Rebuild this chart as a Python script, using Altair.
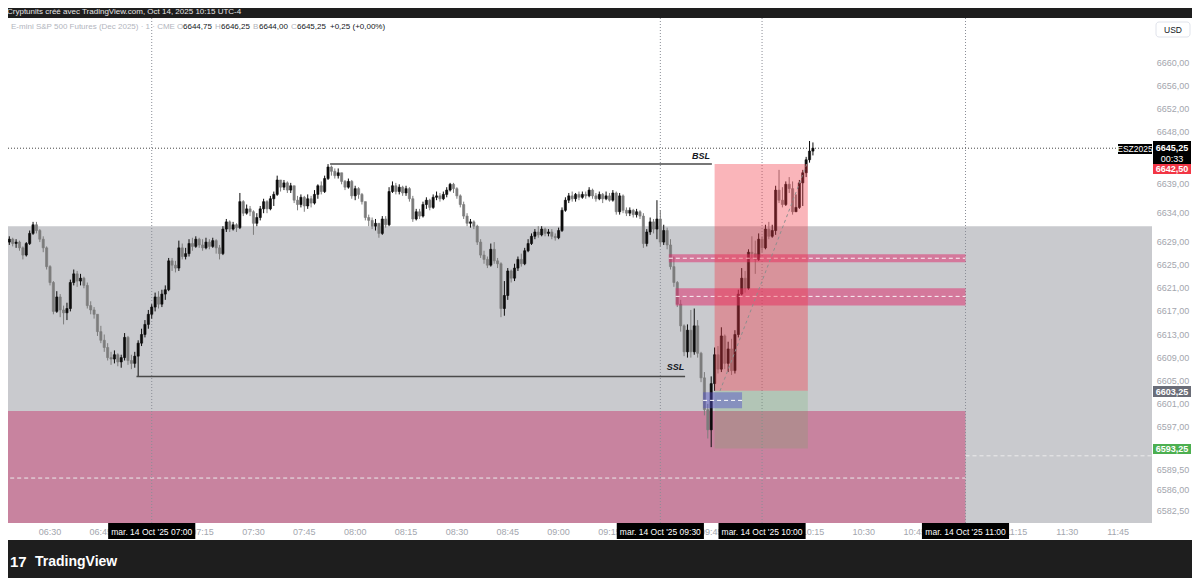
import altair as alt
import pandas as pd

# ---------------- data (1-minute candles from 06:18 to 10:15) ----------------
start_minute = 6 * 60 + 18
first_open = 6629.0
closes = [
    6629.5, 6628.75, 6629.0, 6628.0, 6626.75, 6628.75, 6630.5, 6632.0, 6631.0, 6629.5,
    6628.0, 6624.75, 6622.0, 6617.0, 6619.5, 6617.25, 6616.75, 6617.5, 6622.0, 6623.5,
    6622.25, 6622.75, 6621.5, 6618.0, 6617.25, 6616.5, 6613.5, 6612.0, 6610.75, 6609.0,
    6608.75, 6609.5, 6608.25, 6609.0, 6612.5, 6608.5, 6608.0, 6609.25, 6611.5, 6613.0,
    6614.75, 6616.5, 6617.75, 6619.5, 6618.25, 6620.0, 6620.75, 6625.75, 6625.0, 6624.5,
    6628.0, 6626.5, 6627.0, 6628.75, 6628.25, 6629.5, 6628.5, 6628.0, 6629.0, 6628.25,
    6629.25, 6628.0, 6627.0, 6631.25, 6632.5, 6631.25, 6632.0, 6631.5, 6636.0, 6634.0,
    6634.75, 6634.25, 6632.25, 6633.25, 6634.75, 6636.0, 6634.75, 6636.5, 6637.25, 6639.75,
    6638.5, 6639.25, 6638.0, 6638.75, 6636.25, 6635.5, 6636.75, 6635.25, 6636.5, 6635.75,
    6637.25, 6638.75, 6637.75, 6640.0, 6642.0, 6641.25, 6640.5, 6641.0, 6639.5, 6638.5,
    6639.5, 6637.0, 6638.25, 6637.25, 6636.0, 6633.25, 6632.75, 6631.75, 6632.25, 6630.5,
    6633.0, 6632.0, 6637.75, 6638.75, 6637.75, 6638.5, 6637.5, 6638.25, 6636.5, 6633.0,
    6634.25, 6633.5, 6635.5, 6636.25, 6635.0, 6636.75, 6637.0, 6636.5, 6637.25, 6638.0,
    6639.0, 6638.25, 6637.0, 6635.5, 6633.5, 6632.25, 6632.5, 6631.75, 6629.0, 6626.75,
    6626.0, 6625.0, 6627.75, 6625.75, 6625.25, 6617.5, 6619.75, 6624.0, 6622.75, 6624.5,
    6626.0, 6625.25, 6627.5, 6628.75, 6630.0, 6630.75, 6630.25, 6631.25, 6630.5, 6630.75,
    6630.0, 6629.75, 6631.0, 6634.5, 6636.25, 6637.0, 6636.5, 6637.25, 6636.75, 6637.25,
    6637.0, 6638.0, 6637.0, 6636.5, 6637.25, 6636.5, 6637.0, 6636.25, 6637.5, 6634.25,
    6637.0, 6634.5, 6634.0, 6634.5, 6633.75, 6634.25, 6633.5, 6628.75, 6630.75, 6632.5,
    6631.25, 6633.0, 6629.0, 6631.0, 6628.5, 6624.75, 6622.0, 6618.25, 6614.5, 6610.0,
    6613.75, 6610.0, 6614.5, 6609.75, 6605.5, 6600.0, 6596.5, 6604.5, 6609.5, 6607.0,
    6612.75, 6608.0, 6610.5, 6606.75, 6613.0, 6620.0, 6622.75, 6621.0, 6627.25, 6627.0,
    6626.0, 6629.5, 6628.0, 6631.25, 6630.0, 6631.0, 6638.0, 6636.25, 6635.5, 6639.0,
    6638.25, 6634.25, 6635.0, 6639.25, 6641.0, 6643.25, 6644.75, 6645.25,
]
highs = [
    6630.0, 6629.75, 6629.5, 6629.25, 6628.25, 6629.0, 6631.0, 6632.5, 6632.5, 6631.25,
    6630.0, 6628.25, 6625.0, 6622.25, 6620.5, 6620.0, 6618.0, 6618.5, 6622.5, 6624.25,
    6624.0, 6623.5, 6623.0, 6622.0, 6618.75, 6617.75, 6616.0, 6614.5, 6613.0, 6611.5,
    6610.0, 6610.25, 6609.75, 6609.5, 6613.25, 6612.75, 6609.5, 6610.0, 6612.0, 6614.0,
    6615.5, 6617.25, 6618.25, 6620.25, 6620.5, 6620.75, 6621.5, 6626.25, 6626.25, 6625.75,
    6629.25, 6628.75, 6628.0, 6629.5, 6629.75, 6630.0, 6629.75, 6629.5, 6629.75, 6629.5,
    6629.75, 6629.5, 6628.5, 6631.75, 6633.0, 6632.75, 6632.5, 6632.25, 6637.5, 6636.25,
    6635.5, 6635.25, 6634.5, 6634.0, 6635.25, 6636.5, 6636.25, 6637.0, 6637.75, 6640.5,
    6639.75, 6639.75, 6639.5, 6639.25, 6638.75, 6637.0, 6637.25, 6637.0, 6637.25, 6637.0,
    6638.0, 6639.0, 6639.5, 6640.5, 6642.5, 6642.25, 6641.75, 6641.75, 6641.0, 6639.75,
    6640.0, 6639.75, 6638.75, 6638.5, 6637.5, 6636.0, 6633.75, 6633.25, 6633.0, 6632.25,
    6633.5, 6633.5, 6638.5, 6639.5, 6639.25, 6639.0, 6638.75, 6638.75, 6638.5, 6637.0,
    6634.75, 6634.75, 6636.0, 6636.75, 6636.5, 6637.25, 6637.75, 6637.5, 6637.75, 6638.5,
    6639.25, 6639.25, 6638.5, 6637.25, 6636.0, 6634.0, 6633.0, 6632.75, 6632.0, 6629.5,
    6627.5, 6626.5, 6628.75, 6629.0, 6626.25, 6625.5, 6622.25, 6624.5, 6624.25, 6625.25,
    6626.5, 6627.0, 6628.0, 6629.5, 6630.5, 6631.25, 6631.75, 6631.75, 6631.5, 6631.25,
    6631.25, 6630.5, 6631.5, 6635.0, 6636.75, 6637.5, 6637.75, 6637.5, 6637.75, 6637.75,
    6637.75, 6638.5, 6638.25, 6637.5, 6637.75, 6637.5, 6637.75, 6637.5, 6638.0, 6637.75,
    6637.5, 6637.25, 6635.0, 6635.0, 6634.75, 6634.75, 6634.5, 6634.0, 6631.25, 6633.25,
    6633.0, 6636.25, 6634.5, 6632.0, 6631.5, 6629.5, 6626.5, 6622.25, 6619.0, 6614.75,
    6614.75, 6617.25, 6617.5, 6615.5, 6610.0, 6606.5, 6601.0, 6605.75, 6610.75, 6611.0,
    6614.25, 6613.0, 6611.75, 6612.25, 6613.75, 6620.75, 6624.5, 6624.0, 6627.75, 6630.0,
    6629.25, 6630.5, 6630.0, 6632.0, 6632.5, 6632.0, 6638.75, 6641.5, 6638.5, 6639.5,
    6640.25, 6639.5, 6637.25, 6639.75, 6641.5, 6643.75, 6646.5, 6646.25,
]
lows = [
    6628.5, 6628.25, 6628.0, 6627.5, 6626.0, 6626.5, 6628.5, 6630.25, 6630.5, 6629.0,
    6627.25, 6624.25, 6621.5, 6616.5, 6616.75, 6616.0, 6614.75, 6615.5, 6617.0, 6621.5,
    6621.25, 6621.5, 6621.0, 6617.5, 6616.5, 6615.75, 6612.75, 6611.5, 6610.0, 6608.5,
    6607.75, 6608.0, 6607.5, 6607.25, 6608.5, 6607.75, 6607.0, 6607.25, 6605.75, 6611.0,
    6612.5, 6614.0, 6615.75, 6617.0, 6617.5, 6617.75, 6619.0, 6620.5, 6624.0, 6623.75,
    6624.0, 6626.0, 6626.0, 6626.5, 6627.5, 6628.0, 6628.0, 6627.5, 6627.75, 6627.75,
    6628.0, 6627.0, 6626.0, 6626.75, 6630.75, 6630.75, 6631.0, 6630.75, 6631.25, 6633.5,
    6633.75, 6633.5, 6630.25, 6631.75, 6632.75, 6634.0, 6634.0, 6634.5, 6635.25, 6637.0,
    6637.75, 6638.0, 6637.5, 6637.5, 6635.75, 6634.5, 6635.0, 6634.25, 6634.75, 6635.0,
    6635.5, 6636.5, 6637.25, 6637.5, 6639.75, 6640.5, 6640.0, 6640.0, 6639.0, 6638.0,
    6638.25, 6636.5, 6636.25, 6636.5, 6635.5, 6632.75, 6631.75, 6631.25, 6631.0, 6629.75,
    6630.25, 6631.5, 6631.75, 6637.5, 6637.25, 6637.25, 6637.0, 6637.0, 6636.0, 6632.5,
    6632.75, 6633.0, 6633.25, 6634.75, 6634.5, 6634.75, 6636.25, 6636.0, 6636.25, 6636.75,
    6637.75, 6637.5, 6636.5, 6635.0, 6633.0, 6631.75, 6631.5, 6631.25, 6628.5, 6626.25,
    6625.25, 6624.5, 6624.75, 6625.25, 6624.5, 6616.0, 6616.25, 6619.0, 6622.0, 6622.25,
    6624.0, 6624.75, 6625.0, 6627.25, 6628.5, 6629.5, 6629.75, 6630.0, 6630.0, 6630.0,
    6629.5, 6629.25, 6629.5, 6630.75, 6634.25, 6635.75, 6636.0, 6636.0, 6636.25, 6636.5,
    6636.5, 6636.75, 6636.5, 6636.0, 6636.25, 6635.75, 6636.25, 6636.0, 6636.0, 6633.75,
    6633.75, 6634.0, 6633.5, 6633.5, 6633.25, 6633.25, 6633.0, 6628.0, 6628.25, 6630.25,
    6630.5, 6629.5, 6628.25, 6628.5, 6627.75, 6624.25, 6621.25, 6617.75, 6613.5, 6609.25,
    6609.0, 6609.0, 6609.5, 6609.0, 6604.75, 6599.0, 6595.0, 6593.5, 6603.25, 6606.25,
    6606.5, 6607.0, 6606.5, 6606.0, 6606.25, 6612.5, 6619.75, 6620.25, 6620.75, 6626.25,
    6623.5, 6625.75, 6627.25, 6627.75, 6629.5, 6629.75, 6630.25, 6635.75, 6635.0, 6635.25,
    6637.5, 6633.75, 6634.25, 6634.75, 6635.25, 6640.25, 6642.75, 6644.0,
]

price_ticks = [6660, 6656, 6652, 6648, 6639, 6634, 6629, 6625, 6621, 6617,
               6613, 6609, 6605, 6601, 6597, 6589.5, 6586, 6582.5]
time_ticks = ["06:30", "06:45", "07:15", "07:30", "07:45", "08:00", "08:15", "08:30",
              "08:45", "09:00", "09:15", "09:45", "10:15", "10:30", "10:45", "11:15",
              "11:30", "11:45"]
session_times = ["07:00", "09:30", "10:00", "11:00"]
session_date = "mar. 14 Oct '25"

# drawings (times in minutes after midnight, prices in points)
grey_zone_top = 6631.75
pink_zone_top = 6599.75
pink_mid = 6588.15
right_dashed = 6592.0
fvg_start = [572.5, 574.5]
fvg_end = [660, 660]
fvg_top = [6626.9, 6621.0]
fvg_bottom = [6625.5, 6618.0]
fvg_mid = [6626.2, 6619.6]
pos_start, pos_end = 586.0, 613.5
pos_entry, pos_stop, pos_target = 6603.25, 6642.5, 6593.25
diag_t = [587.6, 613.2]
diag_p = [6603.25, 6642.5]
blue_t = [582.6, 594.1]
blue_p = [6600.25, 6603.0]
blue_mid = 6601.6
bsl_t = [472.6, 585.2]
bsl_p = 6642.5
ssl_t = [415.5, 577.3]
ssl_p = 6605.75
last_price = 6645.25


def to_min(s):
    h, m = s.split(":")
    return int(h) * 60 + int(m)


# ---------------- frames ----------------
n = len(closes)
opens = [first_open] + closes[:-1]
candles = pd.DataFrame({
    "t": [start_minute + i for i in range(n)],
    "open": opens, "close": closes,
    "high": [max(h, o, c) for h, o, c in zip(highs, opens, closes)],
    "low": [min(l, o, c) for l, o, c in zip(lows, opens, closes)],
})
candles["dir"] = ["up" if c >= o else "down" for o, c in zip(opens, closes)]

W, H = 1144, 505
xs = alt.Scale(domain=[377.613, 715.0], nice=False, zero=False, padding=0)
ys = alt.Scale(domain=[6580.37, 6667.79], nice=False, zero=False, padding=0)
FONT = "Liberation Sans"
one = pd.DataFrame({"a": [1]})


def X(f):
    return alt.X(f, type="quantitative", scale=xs, axis=None)


def Y(f):
    return alt.Y(f, type="quantitative", scale=ys, axis=None)


def txt(s, px, py, size=9, color="#131722", align="left", weight="normal", style="normal", baseline="middle"):
    return alt.Chart(one).mark_text(text=s, fontSize=size, color=color, align=align,
                                    fontWeight=weight, fontStyle=style, baseline=baseline,
                                    font=FONT).encode(x=alt.value(px), y=alt.value(py))


def box(x1, x2, y1, y2, color, **kw):
    return alt.Chart(one).mark_rect(color=color, **kw).encode(
        x=alt.value(x1), x2=alt.value(x2), y=alt.value(y1), y2=alt.value(y2))


layers = []
# white panel
layers.append(box(-2, 1184, 0, 522, "#ffffff"))

# big zones
zones = pd.DataFrame({"t1": [370, 370], "t2": [720, 660],
                      "p1": [6570, 6570], "p2": [grey_zone_top, pink_zone_top],
                      "c": ["#c9cace", "#c8839f"]})
layers.append(alt.Chart(zones).mark_rect(clip=True).encode(
    x=X("t1"), x2=alt.X2("t2"), y=Y("p1"), y2=alt.Y2("p2"),
    color=alt.Color("c:N", scale=None)))
dashes = pd.DataFrame({"t1": [370, 660], "t2": [660, 720], "p": [pink_mid, right_dashed]})
layers.append(alt.Chart(dashes).mark_rule(clip=True, strokeDash=[4, 3], strokeWidth=1, color="#ececec").encode(
    x=X("t1"), x2=alt.X2("t2"), y=Y("p")))

# vertical session lines
vl = pd.DataFrame({"t": [to_min(s) for s in session_times]})
layers.append(alt.Chart(vl).mark_rule(strokeDash=[1, 2], color="#8a8d96", strokeWidth=1).encode(
    x=X("t"), y=alt.value(0), y2=alt.value(H)))

# current price dotted line
lp = pd.DataFrame({"p": [last_price]})
layers.append(alt.Chart(lp).mark_rule(strokeDash=[1, 2], color="#444444", strokeWidth=1).encode(
    x=alt.value(0), x2=alt.value(1112), y=Y("p")))

# candles
cscale = alt.Scale(domain=["up", "down"], range=["#0c0c0c", "#7c7c7c"])
layers.append(alt.Chart(candles).mark_rule(strokeWidth=1, clip=True).encode(
    x=X("t"), y=Y("low"), y2=alt.Y2("high"), color=alt.Color("dir:N", scale=cscale, legend=None)))
layers.append(alt.Chart(candles).mark_bar(size=2.2, strokeWidth=0.6, clip=True).encode(
    x=X("t"), y=Y("open"), y2=alt.Y2("close"),
    color=alt.Color("dir:N", scale=cscale, legend=None),
    stroke=alt.Stroke("dir:N", scale=cscale, legend=None)))

# BSL / SSL
liq = pd.DataFrame({"t1": [bsl_t[0], ssl_t[0]], "t2": [bsl_t[1], ssl_t[1]], "p": [bsl_p, ssl_p]})
layers.append(alt.Chart(liq).mark_rule(color="#4a4a4a", strokeWidth=1.5, clip=True).encode(
    x=X("t1"), x2=alt.X2("t2"), y=Y("p")))
liq_txt = pd.DataFrame({"t": [582.0, 574.5], "p": [6643.9, 6607.3], "s": ["BSL", "SSL"]})
layers.append(alt.Chart(liq_txt).mark_text(fontSize=9, fontWeight="bold", fontStyle="italic",
                                           color="#131722", font=FONT).encode(
    x=X("t"), y=Y("p"), text="s:N"))

# FVG zones
fvg = pd.DataFrame({"t1": fvg_start, "t2": fvg_end, "p1": fvg_bottom, "p2": fvg_top, "m": fvg_mid})
layers.append(alt.Chart(fvg).mark_rect(color="#df2668", opacity=0.5, clip=True).encode(
    x=X("t1"), x2=alt.X2("t2"), y=Y("p1"), y2=alt.Y2("p2")))
layers.append(alt.Chart(fvg).mark_rule(color="#ffffff", strokeDash=[4, 3], strokeWidth=1, opacity=0.9, clip=True).encode(
    x=X("t1"), x2=alt.X2("t2"), y=Y("m")))

# short position tool
pos = pd.DataFrame({"t1": [pos_start, pos_start], "t2": [pos_end, pos_end],
                    "p1": [pos_entry, pos_target], "p2": [pos_stop, pos_entry],
                    "c": ["#f23645", "#4caf50"], "o": [0.37, 0.18]})
layers.append(alt.Chart(pos).mark_rect(clip=True).encode(
    x=X("t1"), x2=alt.X2("t2"), y=Y("p1"), y2=alt.Y2("p2"),
    color=alt.Color("c:N", scale=None), opacity=alt.Opacity("o:Q", scale=None)))
diag = pd.DataFrame({"t": diag_t, "p": diag_p})
layers.append(alt.Chart(diag).mark_line(color="#8e8e8e", strokeDash=[3, 3], strokeWidth=1, clip=True).encode(
    x=X("t"), y=Y("p")))

# blue block
blue = pd.DataFrame({"t1": [blue_t[0]], "t2": [blue_t[1]], "p1": [blue_p[0]], "p2": [blue_p[1]], "m": [blue_mid]})
layers.append(alt.Chart(blue).mark_rect(color="#5050c8", opacity=0.45, clip=True).encode(
    x=X("t1"), x2=alt.X2("t2"), y=Y("p1"), y2=alt.Y2("p2")))
layers.append(alt.Chart(blue).mark_rule(color="#ffffff", strokeDash=[4, 3], strokeWidth=1, clip=True).encode(
    x=X("t1"), x2=alt.X2("t2"), y=Y("m")))

# price axis labels
pt = pd.DataFrame({"p": price_ticks, "s": [f"{v:.2f}".replace(".", ",") for v in price_ticks]})
layers.append(alt.Chart(pt).mark_text(fontSize=9, color="#a3a6ae", font=FONT).encode(
    x=alt.value(1165), y=Y("p"), text="s:N"))

# price badges
layers.append(box(1145, 1183, 123, 146, "#000000"))
layers.append(txt("6645,25", 1164, 130, size=9, color="#ffffff", align="center", weight="bold"))
layers.append(txt("00:33", 1164, 140.5, size=9, color="#ffffff", align="center"))
layers.append(box(1145, 1183, 146, 156, "#f23645"))
layers.append(txt("6642,50", 1164, 151, size=9, color="#ffffff", align="center", weight="bold"))
layers.append(box(1145, 1183, 368, 379, "#6a6d78"))
layers.append(txt("6603,25", 1164, 373.5, size=9, color="#ffffff", align="center", weight="bold"))
layers.append(box(1145, 1183, 426, 436, "#4caf50"))
layers.append(txt("6593,25", 1164, 431, size=9, color="#ffffff", align="center", weight="bold"))
layers.append(box(1110, 1144, 126, 136, "#000000"))
layers.append(txt("ESZ2025", 1127, 131, size=8.5, color="#ffffff", align="center"))
layers.append(box(1148, 1182, 4, 19, "#ffffff", stroke="#e0e3eb", strokeWidth=1, cornerRadius=3))
layers.append(txt("USD", 1165, 11.5, size=8.5, color="#131722", align="center"))

# time axis
tt = pd.DataFrame({"t": [to_min(s) for s in time_ticks], "s": time_ticks})
layers.append(alt.Chart(tt).mark_text(fontSize=9, color="#a3a6ae", font=FONT).encode(
    x=X("t"), y=alt.value(514), text="s:N"))
sess = pd.DataFrame({"t": [to_min(s) for s in session_times],
                     "t1": [to_min(s) - 12.85 for s in session_times],
                     "t2": [to_min(s) + 12.85 for s in session_times],
                     "s": [f"{session_date}  {s}" for s in session_times]})
layers.append(alt.Chart(sess).mark_rect(color="#000000").encode(
    x=X("t1"), x2=alt.X2("t2"), y=alt.value(505), y2=alt.value(521)))
layers.append(alt.Chart(sess).mark_text(fontSize=8.5, color="#ffffff", font=FONT).encode(
    x=X("t"), y=alt.value(513.5), text="s:N"))

# header line
grey_h = "#b2b5be"
layers.append(txt("E-mini S&P 500 Futures (Dec 2025) · 1 · CME", 3, 9, size=8, color=grey_h))
for s, px, c in [("O", 169, grey_h), ("6644,75", 175, "#131722"), ("H", 207, grey_h),
                 ("6646,25", 213, "#131722"), ("B", 245, grey_h), ("6644,00", 251, "#131722"),
                 ("C", 283, grey_h), ("6645,25", 289, "#131722"), ("+0,25 (+0,00%)", 322, "#131722")]:
    layers.append(txt(s, px, 9, size=8, color=c))

# frame texts
layers.append(txt("Cryptunits créé avec TradingView.com, Oct 14, 2025 10:15 UTC-4", -1, -6,
                  size=8, color="#e6e6e6"))
layers.append(txt("17", 2, 544, size=15, color="#ffffff", weight="bold"))
layers.append(txt("TradingView", 27, 544, size=14, color="#ffffff", weight="bold"))

chart = alt.layer(*layers).properties(
    width=W, height=H,
    padding={"left": 0, "top": 10, "right": 40, "bottom": 55},
    autosize=alt.AutoSizeParams(type="none"),
    background="#1e1e1e",
).configure_view(stroke=None)

chart.save("out.html", embed_options={"renderer": "svg", "actions": False})
